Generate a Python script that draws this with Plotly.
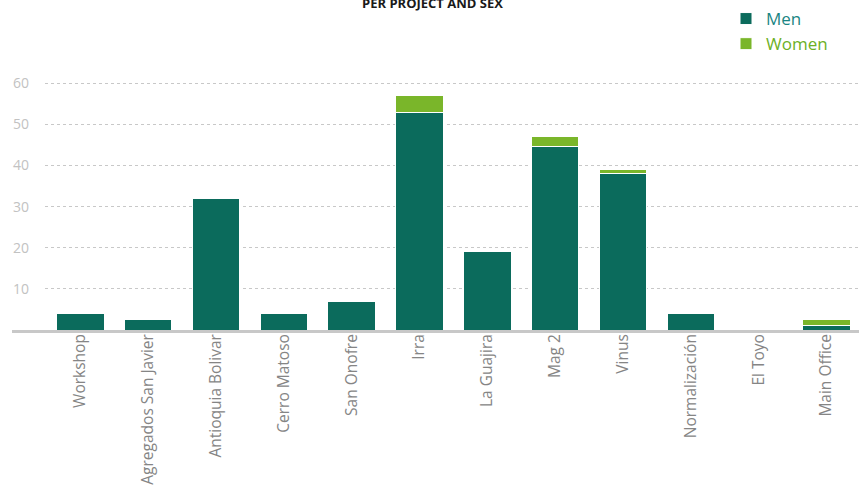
import plotly.graph_objects as go

categories = ["Workshop", "Agregados San Javier", "Antioquia Bolivar", "Cerro Matoso",
              "San Onofre", "Irra", "La Guajira", "Mag 2", "Vinus", "Normalización",
              "El Toyo", "Main Office"]
men = [4, 2.5, 32, 4, 7, 53, 19, 44.5, 38, 4, 0, 1.2]
women = [0, 0, 0, 0, 0, 4, 0, 2.5, 1, 0, 0, 1.3]
y_ticks = [10, 20, 30, 40, 50, 60]

MEN_C = "#0b6b5c"
WOMEN_C = "#7ab62a"

fig = go.Figure()
fig.add_trace(go.Bar(x=categories, y=men, name="<span style='color:#1a8583'>Men</span>",
                     legendgroup="m",
                     marker=dict(color=MEN_C, line=dict(color="white", width=1))))
fig.add_trace(go.Bar(x=categories, y=women, name="<span style='color:#6cb025'>Women</span>",
                     legendgroup="w",
                     marker=dict(color=WOMEN_C, line=dict(color="white", width=1))))

W, H = 859, 494
ml, mr, mt, mb = 45, 0, 75, 164
pw, ph = W - ml - mr, H - mt - mb

fig.update_layout(
    width=W, height=H, barmode="stack", bargap=0.3,
    margin=dict(l=ml, r=mr, t=mt, b=mb, autoexpand=False),
    plot_bgcolor="white", paper_bgcolor="white",
    font=dict(family="Open Sans", color="#7a7a7a"),
    legend=dict(x=(726 - ml) / pw, y=1 + (mt - 1) / ph, xanchor="left", yanchor="top",
                font=dict(size=17, family="Open Sans"), traceorder="normal",
                itemwidth=30, tracegroupgap=10, bgcolor="rgba(0,0,0,0)"),
    xaxis=dict(type="category", tickangle=-90, showgrid=False, showline=False,
               ticks="", tickfont=dict(size=15.5, color="#858585"),
               range=[-0.52, 11.48]),
    yaxis=dict(range=[0, 62], tickvals=y_ticks, showgrid=True, griddash="dot",
               gridcolor="#c8c8c8", gridwidth=1, zeroline=False, showline=False,
               tickfont=dict(size=14, color="#c2c2c2"), ticklabelstandoff=15),
    annotations=[dict(text="<b>PER PROJECT AND SEX</b>", xref="paper", yref="paper",
                      x=(432 - ml) / pw, y=1 + (mt - 2.5) / ph, xanchor="center",
                      yanchor="middle", showarrow=False,
                      font=dict(size=13, family="Open Sans", color="#1a1a1a"))],
    shapes=[dict(type="line", xref="paper", yref="paper",
                 x0=(12 - ml) / pw, x1=1, y0=-1.5 / ph, y1=-1.5 / ph,
                 line=dict(color="#c8c8c8", width=3), layer="below")],
)

fig.write_html("out.html", config={"displayModeBar": False},
               post_script="document.body.style.margin='0';document.body.style.overflow='hidden';")
